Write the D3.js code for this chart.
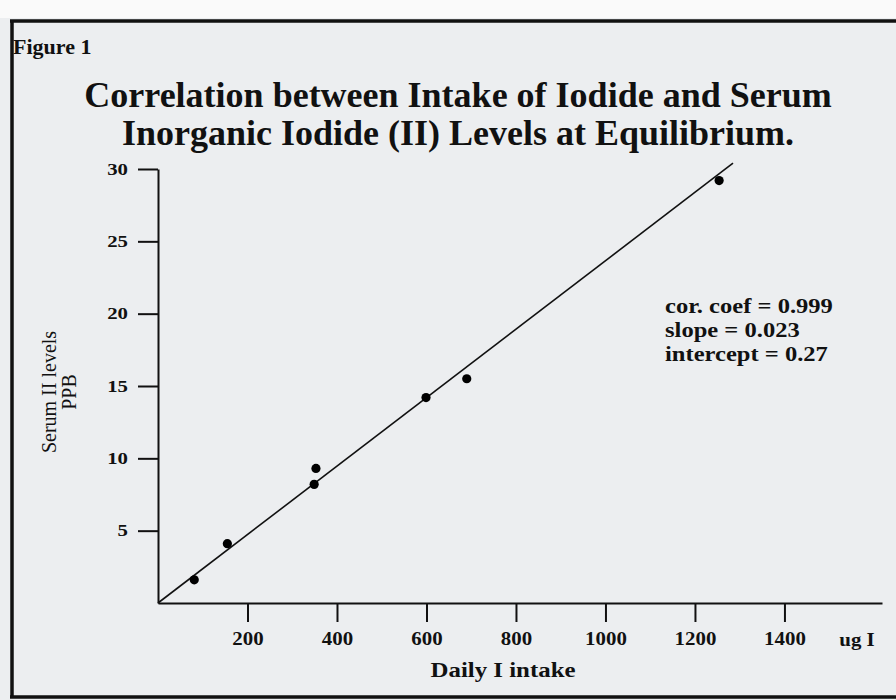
<!DOCTYPE html>
<html>
<head>
<meta charset="utf-8">
<script src="https://cdn.jsdelivr.net/npm/d3@7/dist/d3.min.js"></script>
<style>
  html, body { margin: 0; padding: 0; background: #eceef0; }
  svg { display: block; }
  text { font-family: "Liberation Serif", "Times New Roman", serif; fill: #111; }
</style>
</head>
<body>
<svg id="chart" width="896" height="700"></svg>
<script>
// ---- data ----
const intake = [81, 155, 349, 353, 599, 690, 1254];      // ug I per day
const serum  = [1.6, 4.1, 8.2, 9.3, 14.2, 15.5, 29.2];   // PPB
const fitX   = [0, 1285];                                 // drawn regression line ends
const fitY   = [0, 30.4];
const xTicks = [200, 400, 600, 800, 1000, 1200, 1400];
const yTicks = [5, 10, 15, 20, 25, 30];
const stats  = ["cor. coef = 0.999", "slope = 0.023", "intercept = 0.27"];
const titleLines = ["Correlation between Intake of Iodide and Serum",
                    "Inorganic Iodide (II) Levels at Equilibrium."];

const svg = d3.select("#chart");
const W = 896, H = 700;

// background and frame
svg.append("rect").attr("width", W).attr("height", H).attr("fill", "#eceef0");
svg.append("rect").attr("width", W).attr("height", 18).attr("fill", "#fafafa");
const frame = svg.append("g").attr("stroke", "#111").attr("stroke-width", 3.5).attr("fill", "none");
frame.append("line").attr("x1", 10).attr("x2", W).attr("y1", 21).attr("y2", 21);
frame.append("line").attr("x1", 12).attr("x2", 12).attr("y1", 20).attr("y2", 698);
frame.append("line").attr("x1", 10).attr("x2", W).attr("y1", 697).attr("y2", 697);

// scales
const x = d3.scaleLinear().domain([0, 1618]).range([158, 882]);
const y = d3.scaleLinear().domain([0, 30]).range([603, 169]);

// helper: text stretched horizontally about its anchor point
function stext(px, py, sx, size, str, anchor) {
  return svg.append("text")
    .attr("transform", `translate(${px},${py}) scale(${sx},1)`)
    .attr("text-anchor", anchor || "start")
    .attr("font-size", size).attr("font-weight", "bold").text(str);
}

// texts
stext(13, 54, 1.0, 22, "Figure 1");

svg.selectAll("text.title").data(titleLines).join("text")
  .attr("class", "title")
  .attr("x", 458).attr("y", (d, i) => 107 + i * 38)
  .attr("text-anchor", "middle").attr("font-size", 36).attr("font-weight", "bold")
  .text(d => d);

// axes
const yAxis = d3.axisLeft(y).tickValues(yTicks).tickSize(20).tickSizeOuter(0).tickPadding(10).tickFormat(d3.format("d"));
const xAxis = d3.axisBottom(x).tickValues(xTicks).tickSize(19).tickSizeOuter(0).tickPadding(10).tickFormat(d3.format("d"));

const gy = svg.append("g").attr("transform", `translate(${x(0)},0)`).call(yAxis);
const gx = svg.append("g").attr("transform", `translate(0,${y(0)})`).call(xAxis);
[gy, gx].forEach(g => {
  g.selectAll("path, line").attr("stroke", "#111").attr("stroke-width", 2);
  g.selectAll("text").attr("fill", "#111").attr("font-weight", "bold")
    .attr("font-family", "Liberation Serif, serif");
});
const ySx = 1.3;
gy.selectAll("text").attr("font-size", 16)
  .attr("x", -30 / ySx).attr("transform", `scale(${ySx},1)`);
gx.selectAll("text").attr("font-size", 19).attr("transform", "scale(1.1,1)");

stext(857, 646, 1.1, 19, "ug I", "middle");
stext(503, 677, 1.13, 22, "Daily I intake", "middle");

// y label
const yl = svg.append("g").attr("transform", "translate(0,392) rotate(-90)");
yl.append("text").attr("x", 0).attr("y", 56).attr("text-anchor", "middle")
  .attr("font-size", 20).text("Serum II levels");
yl.append("text").attr("x", 0).attr("y", 76).attr("text-anchor", "middle")
  .attr("font-size", 20).text("PPB");

// regression line
svg.append("path")
  .datum(d3.zip(fitX, fitY))
  .attr("d", d3.line().x(d => x(d[0])).y(d => y(d[1])))
  .attr("stroke", "#111").attr("stroke-width", 1.6).attr("fill", "none");

// points
svg.selectAll("circle.pt").data(d3.zip(intake, serum)).join("circle")
  .attr("class", "pt")
  .attr("cx", d => x(d[0])).attr("cy", d => y(d[1])).attr("r", 4.6)
  .attr("fill", "#000");

// stats
stats.forEach((s, i) => stext(665, 313 + i * 24, 1.17, 21, s));
</script>
</body>
</html>
